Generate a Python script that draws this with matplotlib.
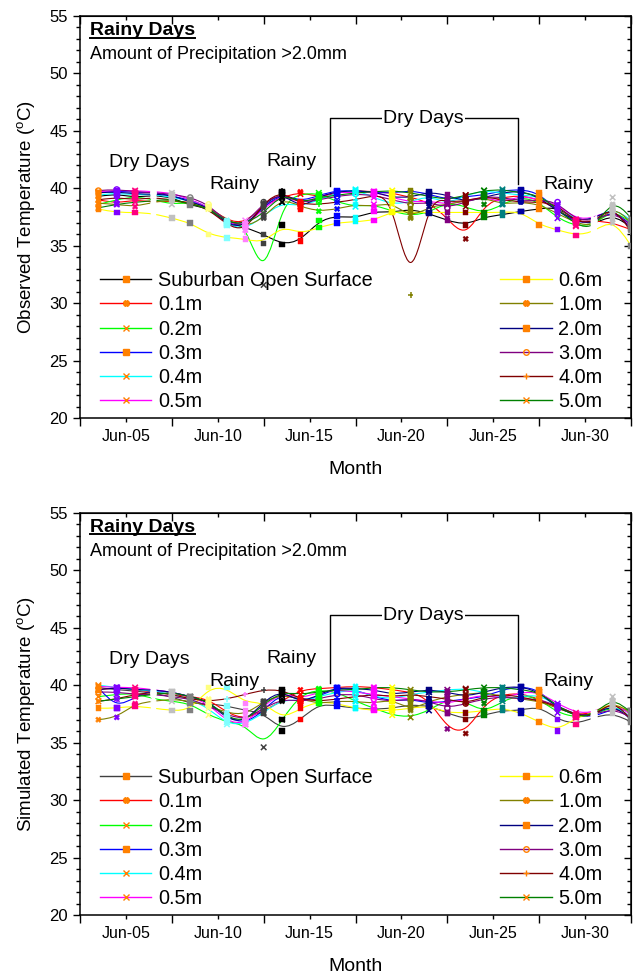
#!/usr/bin/env python3
"""Observed vs simulated temperature profiles, rainy-day period (June).
Two stacked panels, Origin-style B-spline curves, point markers coloured
by point index (Origin colour increment), writes out.png.
"""
import numpy as np
import matplotlib
matplotlib.use("Agg")
import matplotlib.pyplot as plt
from matplotlib.path import Path
from matplotlib.patches import PathPatch
from matplotlib.lines import Line2D
from matplotlib.ticker import FixedLocator, FixedFormatter, MultipleLocator

plt.rcParams["font.family"] = ["Liberation Sans", "DejaVu Sans"]
plt.rcParams["mathtext.fontset"] = "custom"
plt.rcParams["mathtext.rm"] = "Liberation Sans"

OUT = "out.png"

# readings are daily, plotted at noon (Jun 3 .. Jul 2)
DAY = [3, 4, 5, 6, 7, 8, 9, 10, 11, 12, 13, 14, 15, 16, 17,
       18, 19, 20, 21, 22, 23, 24, 25, 26, 27, 28, 29, 30, 31, 32]
TICK_DAYS = [5, 10, 15, 20, 25, 30]
TICK_LABELS = ["Jun-05", "Jun-10", "Jun-15", "Jun-20", "Jun-25", "Jun-30"]

SERIES = ["Suburban Open Surface", "0.1m", "0.2m", "0.3m", "0.4m", "0.5m",
          "0.6m", "1.0m", "2.0m", "3.0m", "4.0m", "5.0m"]

# observed temperatures (deg C), one list per depth
OBS_SUB = [39.3, 39.5, 39.2, 39.4, 39.2, 38.5, 38.3, 37.0, 36.6, 36.0, 35.1, 35.4, 37.2, 37.6, 37.4,
           38.0, 37.9, 38.2, 37.8, 37.2, 36.8, 37.5, 37.7, 38.0, 38.2, 38.4, 37.2, 36.8, 37.8, 36.6]
OBS_01 = [39.0, 38.7, 39.0, 38.8, 38.9, 38.8, 38.4, 37.2, 36.9, 38.6, 39.2, 39.7, 39.2, 39.6, 39.8,
          39.7, 39.6, 39.2, 38.8, 37.4, 35.6, 38.6, 39.2, 39.4, 39.0, 38.2, 37.0, 37.2, 37.0, 36.4]
OBS_02 = [38.6, 39.0, 39.3, 39.0, 38.6, 38.8, 38.2, 36.9, 37.2, 31.6, 38.8, 39.5, 39.6, 38.8, 38.4,
          38.6, 38.0, 37.6, 37.9, 38.8, 38.4, 37.8, 38.6, 39.3, 38.8, 37.4, 36.7, 36.8, 38.2, 37.0]
OBS_03 = [39.6, 39.8, 39.6, 39.7, 39.3, 39.0, 38.4, 37.0, 36.6, 38.4, 39.6, 38.8, 39.4, 39.8, 39.8,
          39.6, 39.6, 39.8, 39.5, 39.0, 39.3, 39.4, 39.8, 39.9, 39.6, 38.0, 37.0, 37.0, 38.2, 36.8]
OBS_04 = [39.4, 39.6, 39.4, 39.5, 39.2, 38.9, 38.4, 36.8, 36.4, 37.6, 38.8, 38.4, 39.0, 39.6, 39.9,
          39.2, 38.6, 38.8, 39.4, 38.6, 39.4, 39.8, 39.6, 39.4, 39.3, 38.4, 37.2, 37.3, 38.4, 37.2]
OBS_05 = [39.7, 39.8, 39.8, 39.7, 39.6, 39.0, 38.4, 36.9, 36.8, 38.2, 39.5, 38.6, 39.3, 39.7, 39.6,
          39.7, 39.2, 38.8, 38.9, 38.6, 38.9, 39.3, 38.7, 39.4, 39.0, 38.6, 37.3, 37.4, 38.3, 36.5]
OBS_06 = [38.2, 37.9, 37.9, 37.8, 37.4, 37.0, 36.0, 35.7, 35.6, 35.2, 36.8, 36.0, 36.6, 37.0, 37.1,
          37.2, 38.0, 37.9, 37.9, 37.9, 37.9, 37.9, 37.9, 38.0, 36.8, 36.4, 35.9, 36.2, 37.4, 35.0]
OBS_10 = [38.7, 38.6, 38.4, 38.8, 39.0, 38.6, 38.4, 37.2, 36.6, 37.4, 39.2, 38.4, 38.0, 38.2, 38.6,
          38.4, 38.8, 37.4, 38.4, 38.6, 38.9, 39.2, 38.6, 38.8, 38.6, 37.8, 37.0, 36.6, 38.6, 37.0]
OBS_20 = [39.6, 39.7, 39.5, 39.5, 39.4, 38.8, 38.4, 36.8, 36.6, 38.6, 39.7, 38.2, 39.3, 39.7, 39.8,
          39.7, 39.2, 39.2, 39.7, 39.4, 38.8, 39.2, 39.6, 39.8, 39.2, 38.0, 37.2, 37.3, 38.4, 36.4]
OBS_30 = [39.8, 39.9, 39.7, 39.6, 39.5, 39.2, 38.6, 37.0, 36.8, 38.8, 39.6, 38.7, 39.0, 39.3, 39.5,
          39.4, 39.0, 38.6, 38.8, 38.3, 38.8, 39.3, 39.2, 38.9, 39.0, 38.8, 37.2, 37.2, 38.0, 36.8]
OBS_40 = [39.0, 39.2, 39.0, 39.2, 39.0, 38.7, 38.2, 36.8, 36.2, 38.8, 39.8, 38.6, 38.6, 38.8, 39.0,
          39.4, 39.2, 30.7, 39.3, 38.8, 38.9, 39.3, 39.0, 38.8, 38.8, 38.6, 37.0, 37.0, 38.6, 36.2]
OBS_50 = [38.3, 38.6, 38.8, 38.9, 39.1, 38.6, 38.3, 37.0, 36.9, 37.8, 39.6, 38.7, 39.2, 39.4, 39.6,
          39.7, 39.8, 39.6, 39.3, 39.0, 39.4, 39.8, 39.9, 39.6, 39.4, 38.2, 36.8, 36.4, 39.2, 37.4]

# simulated temperatures (deg C)
SIM_SUB = [39.8, 39.6, 39.5, 39.3, 39.0, 38.4, 38.4, 38.2, 37.8, 37.6, 36.0, 37.0, 38.4, 38.2, 38.0,
           37.9, 38.0, 38.3, 38.2, 37.6, 37.0, 37.4, 37.8, 37.8, 38.2, 37.0, 36.6, 37.2, 37.6, 36.8]
SIM_01 = [39.6, 39.8, 39.6, 39.4, 39.2, 39.0, 38.8, 37.6, 37.0, 37.8, 38.6, 39.6, 39.7, 39.8, 39.9,
          39.8, 39.6, 39.4, 38.8, 36.2, 35.8, 38.4, 39.2, 39.3, 38.8, 38.0, 37.4, 37.6, 38.2, 37.2]
SIM_02 = [39.0, 39.2, 39.3, 38.8, 38.6, 38.4, 37.4, 36.8, 36.6, 34.6, 37.0, 39.2, 39.6, 39.4, 38.6,
          38.0, 37.4, 37.2, 37.8, 38.8, 38.6, 37.6, 38.6, 39.2, 38.8, 37.6, 37.2, 37.4, 38.2, 37.6]
SIM_03 = [39.8, 38.0, 39.0, 39.6, 39.4, 39.0, 38.6, 37.2, 36.6, 37.8, 39.4, 38.6, 39.0, 39.8, 39.6,
          39.0, 38.6, 38.8, 38.4, 38.6, 38.8, 39.0, 39.6, 39.9, 39.6, 38.0, 37.4, 37.2, 38.0, 37.8]
SIM_04 = [40.0, 39.8, 39.6, 39.5, 39.2, 38.8, 38.0, 36.6, 36.6, 37.6, 38.8, 38.6, 39.0, 39.4, 39.6,
          39.0, 38.8, 39.2, 39.4, 39.6, 39.7, 39.4, 38.8, 39.0, 39.2, 38.2, 37.4, 37.4, 38.4, 37.2]
SIM_05 = [39.9, 39.8, 39.8, 39.6, 39.4, 39.0, 38.4, 36.8, 36.6, 38.2, 39.4, 38.8, 39.4, 39.6, 39.4,
          39.2, 39.0, 38.8, 38.6, 38.4, 38.8, 39.2, 38.8, 39.4, 39.4, 38.4, 37.6, 37.6, 38.6, 37.4]
SIM_06 = [38.0, 38.0, 38.2, 38.0, 37.8, 37.8, 39.8, 39.8, 38.4, 38.6, 37.0, 38.0, 38.6, 38.4, 38.0,
          37.8, 37.8, 38.0, 38.2, 37.6, 37.6, 37.8, 38.0, 37.6, 36.8, 36.0, 37.2, 37.6, 38.6, 37.6]
SIM_10 = [37.0, 37.2, 38.4, 38.6, 38.8, 38.6, 38.2, 37.6, 37.4, 38.6, 39.2, 38.8, 38.4, 38.6, 38.6,
          38.4, 38.8, 37.8, 38.6, 39.0, 39.2, 39.4, 39.0, 38.8, 38.6, 38.0, 37.4, 37.4, 38.6, 37.6]
SIM_20 = [39.6, 39.8, 39.6, 39.6, 39.4, 39.0, 38.6, 37.0, 36.8, 38.6, 39.6, 38.4, 39.2, 39.8, 39.7,
          39.6, 39.2, 39.4, 39.6, 39.4, 39.0, 39.4, 39.8, 39.9, 39.4, 38.0, 37.4, 37.4, 38.4, 37.0]
SIM_30 = [39.4, 39.4, 39.2, 39.2, 39.0, 38.8, 38.2, 37.4, 37.0, 38.0, 38.8, 38.6, 38.8, 39.2, 39.2,
          38.8, 38.6, 38.8, 38.6, 38.0, 38.4, 38.8, 39.0, 38.8, 38.8, 38.2, 37.4, 37.4, 38.0, 37.2]
SIM_40 = [38.6, 38.8, 39.2, 39.4, 39.2, 38.8, 38.6, 38.8, 39.2, 39.6, 39.6, 38.8, 38.6, 38.8, 39.0,
          39.2, 39.0, 39.2, 39.0, 38.8, 38.4, 39.0, 39.2, 39.0, 38.6, 38.2, 37.4, 37.2, 38.8, 37.0]
SIM_50 = [38.6, 38.8, 39.0, 39.2, 39.4, 39.0, 38.6, 37.2, 36.8, 38.4, 39.4, 39.2, 39.4, 39.6, 39.6,
          39.8, 39.8, 39.6, 39.4, 39.4, 39.6, 39.8, 39.8, 39.6, 39.4, 38.2, 37.2, 37.4, 39.0, 37.6]

OBS = [OBS_SUB, OBS_01, OBS_02, OBS_03, OBS_04, OBS_05,
       OBS_06, OBS_10, OBS_20, OBS_30, OBS_40, OBS_50]
SIM = [SIM_SUB, SIM_01, SIM_02, SIM_03, SIM_04, SIM_05,
       SIM_06, SIM_10, SIM_20, SIM_30, SIM_40, SIM_50]

# Origin default colour list (used for point colour increment)
ORIGIN = ["#000000", "#FF0000", "#00FF00", "#0000FF", "#00FFFF", "#FF00FF",
          "#FFFF00", "#808000", "#000080", "#800080", "#800000", "#008000",
          "#008080", "#0000A0", "#FF8000", "#8000FF", "#FF0080", "#FFFFFF",
          "#C0C0C0", "#808080", "#FFFF80", "#80FFFF", "#FF80FF", "#404040"]
LINE_COLORS = ["#000000", "#FF0000", "#00FF00", "#0000FF", "#00FFFF", "#FF00FF",
               "#FFFF00", "#808000", "#000080", "#800080", "#800000", "#008000"]
MARKERS = ["s", "X", "x", "s", "x", "x", "s", "X", "s", "o", "+", "x"]
ORANGE = "#FF8000"


def bspline(xs, ys):
    """Uniform cubic B-spline (Origin 'B-Spline' connect) as Bezier path."""
    P = np.column_stack([xs, ys]).astype(float)
    P = np.vstack([P[:1], P[:1], P, P[-1:], P[-1:]])
    verts, codes = [], []
    for i in range(len(P) - 3):
        p0, p1, p2, p3 = P[i:i + 4]
        if i == 0:
            verts.append((p0 + 4 * p1 + p2) / 6)
            codes.append(Path.MOVETO)
        verts += [(2 * p1 + p2) / 3, (p1 + 2 * p2) / 3, (p1 + 4 * p2 + p3) / 6]
        codes += [Path.CURVE4] * 3
    return Path(np.array(verts), codes)


fig = plt.figure(figsize=(6.35, 9.77), dpi=100)
fig.patch.set_facecolor("white")
ax_top = fig.add_axes([0.126, 0.5718, 0.8677, 0.4121])
ax_bot = fig.add_axes([0.126, 0.0632, 0.8677, 0.4121])

x = np.array(DAY) + 0.5
point_colors = [ORIGIN[(14 + i) % len(ORIGIN)] for i in range(len(DAY))]
MINOR_X = [2.5, 7.5, 12.5, 17.5, 22.5, 27.5, 32.5]


def draw_panel(ax, data, ylabel, sub_color):
    colors = LINE_COLORS.copy()
    colors[0] = sub_color
    for k, vals in enumerate(data):
        ax.add_patch(PathPatch(bspline(x, vals), fill=False,
                               edgecolor=colors[k], lw=0.8, zorder=2))
    for k, vals in enumerate(data):
        m = MARKERS[k]
        if m == "o":
            ax.scatter(x, vals, s=14, marker=m, facecolors="none",
                       edgecolors=point_colors, linewidths=1.0, zorder=3)
        elif m in ("x", "+"):
            ax.scatter(x, vals, s=16, marker=m, c=point_colors,
                       linewidths=1.1, zorder=3)
        else:
            ax.scatter(x, vals, s=16, marker=m, c=point_colors,
                       edgecolors=point_colors, linewidths=0.3, zorder=3)

    ax.set_xlim(2.5, 32.5)
    ax.set_ylim(20, 55)
    for s in ax.spines.values():
        s.set_linewidth(1.1)

    ax.xaxis.set_major_locator(FixedLocator(TICK_DAYS))
    ax.xaxis.set_major_formatter(FixedFormatter(TICK_LABELS))
    ax.xaxis.set_minor_locator(FixedLocator(MINOR_X))
    ax.tick_params(axis="x", which="major", direction="out", length=2.6,
                   width=1.0, labelsize=11.5, pad=5)
    ax.tick_params(axis="x", which="minor", direction="out", length=5.4, width=1.0)
    ax.yaxis.set_major_locator(MultipleLocator(5))
    ax.yaxis.set_minor_locator(MultipleLocator(1))
    ax.tick_params(axis="y", which="major", direction="out", length=5.4,
                   width=1.0, labelsize=12)
    ax.tick_params(axis="y", which="minor", direction="out", length=2.8, width=1.0)

    # mirrored inward ticks on top/right
    top = ax.secondary_xaxis("top")
    top.xaxis.set_major_locator(FixedLocator(TICK_DAYS))
    top.xaxis.set_minor_locator(FixedLocator(MINOR_X))
    top.tick_params(which="major", direction="in", length=2.6, width=1.0, labeltop=False)
    top.tick_params(which="minor", direction="in", length=5.4, width=1.0)
    right = ax.secondary_yaxis("right")
    right.yaxis.set_major_locator(MultipleLocator(5))
    right.yaxis.set_minor_locator(MultipleLocator(1))
    right.tick_params(which="major", direction="in", length=5.4, width=1.0, labelright=False)
    right.tick_params(which="minor", direction="in", length=2.8, width=1.0)

    ax.set_xlabel("Month", fontsize=14, labelpad=12.5)
    ax.set_ylabel(ylabel, fontsize=13.5, labelpad=8)

    # header text
    t = ax.text(0.018, 0.963, "Rainy Days", transform=ax.transAxes,
                fontsize=14, fontweight="bold", ha="left", va="center")
    ax.text(0.018, 0.903, "Amount of Precipitation >2.0mm", transform=ax.transAxes,
            fontsize=13, ha="left", va="center")
    fig.canvas.draw()
    bb = t.get_window_extent().transformed(ax.transAxes.inverted())
    ax.plot([bb.x0, bb.x1], [bb.y0 + 0.004, bb.y0 + 0.004], color="black",
            lw=1.4, transform=ax.transAxes, clip_on=False)

    # period annotations
    ax.text(6.3, 42.2, "Dry Days", fontsize=14, ha="center", va="center")
    ax.text(10.9, 40.3, "Rainy", fontsize=14, ha="center", va="center")
    ax.text(14.0, 42.3, "Rainy", fontsize=14, ha="center", va="center")
    ax.text(29.1, 40.3, "Rainy", fontsize=14, ha="center", va="center")
    ax.plot([16.1, 16.1, 26.35, 26.35], [40.2, 46.1, 46.1, 40.4],
            color="black", lw=1.0, zorder=4)
    ax.text(21.2, 46.1, "Dry Days", fontsize=14, ha="center", va="center",
            zorder=5, bbox=dict(facecolor="white", edgecolor="none", pad=0.5))

    handles = []
    for k, name in enumerate(SERIES):
        m = MARKERS[k]
        handles.append(Line2D([], [], color=colors[k], lw=1.0, marker=m, ms=4,
                              markerfacecolor="none" if m == "o" else ORANGE,
                              markeredgecolor=ORANGE, markeredgewidth=1.0,
                              label=name))
    lg1 = ax.legend(handles=handles[:6], loc="lower left",
                    bbox_to_anchor=(0.036, 0.018), frameon=False, fontsize=14.3,
                    handlelength=2.6, handletextpad=0.35, labelspacing=0.26,
                    borderpad=0, borderaxespad=0)
    ax.add_artist(lg1)
    ax.legend(handles=handles[6:], loc="lower left",
              bbox_to_anchor=(0.762, 0.018), frameon=False, fontsize=14.3,
              handlelength=2.6, handletextpad=0.35, labelspacing=0.26,
              borderpad=0, borderaxespad=0)


draw_panel(ax_top, OBS, r"Observed Temperature ($^{\rm o}$C)", "#000000")
draw_panel(ax_bot, SIM, r"Simulated Temperature ($^{\rm o}$C)", "#404040")

fig.savefig(OUT, dpi=100, facecolor="white")
print("wrote", OUT)
